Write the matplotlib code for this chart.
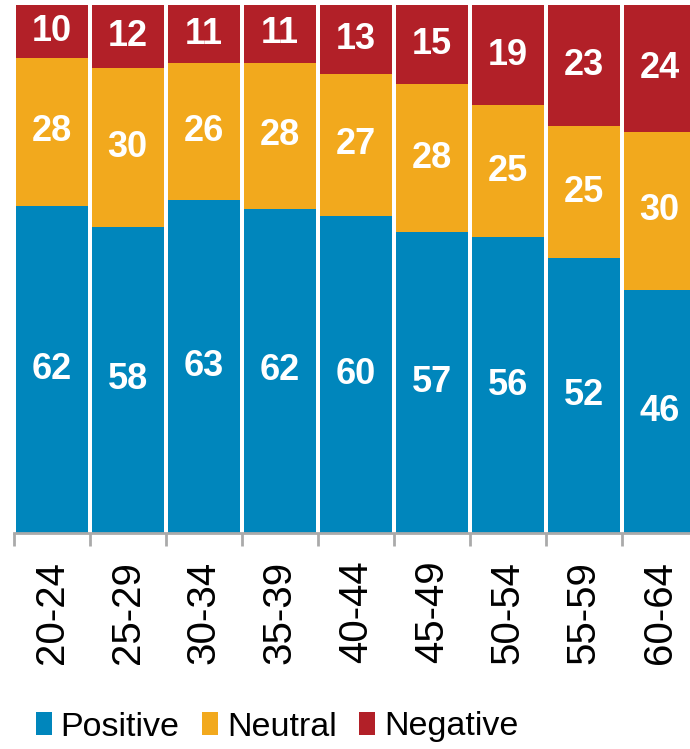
import matplotlib.pyplot as plt
import numpy as np

plt.rcParams['font.family'] = ['Liberation Sans', 'DejaVu Sans']

# Data
ages = ['20-24', '25-29', '30-34', '35-39', '40-44', '45-49', '50-54', '55-59', '60-64']
positive = [62, 58, 63, 62, 60, 57, 56, 52, 46]
neutral = [28, 30, 26, 28, 27, 28, 25, 25, 30]
negative = [10, 12, 11, 11, 13, 15, 19, 23, 24]

colors = {'Positive': '#0086bc', 'Neutral': '#f2a91d', 'Negative': '#b22028'}

W, H = 690, 749
fig = plt.figure(figsize=(W / 100, H / 100), dpi=100)
# axes spans slightly past the right edge, like the reference crop
ax = fig.add_axes([13.7 / W, 216 / H, 684 / W, 528 / H])

x = np.arange(len(ages))
pos = np.array(positive, dtype=float)
neu = np.array(neutral, dtype=float)
neg = np.array(negative, dtype=float)
tot = pos + neu + neg
# 100% stacked: heights are shares of each bar's total
pos_h, neu_h, neg_h = pos / tot * 100, neu / tot * 100, neg / tot * 100

bw = 0.95
b1 = ax.bar(x, pos_h, bw, color=colors['Positive'], label='Positive')
b2 = ax.bar(x, neu_h, bw, bottom=pos_h, color=colors['Neutral'], label='Neutral')
b3 = ax.bar(x, neg_h, bw, bottom=pos_h + neu_h, color=colors['Negative'], label='Negative')

for vals, hs, bottoms in [(positive, pos_h, np.zeros_like(pos_h)),
                          (neutral, neu_h, pos_h),
                          (negative, neg_h, pos_h + neu_h)]:
    for xi, v, h, b in zip(x, vals, hs, bottoms):
        ax.text(xi, b + h / 2, str(v), ha='center', va='center', color='white',
                fontsize=26, fontweight='bold')

ax.set_xlim(-0.5, len(ages) - 0.5)
ax.set_ylim(0, 100)
ax.set_yticks([])
for s in ['top', 'right', 'left']:
    ax.spines[s].set_visible(False)
ax.spines['bottom'].set_color('#aaaaaa')
ax.spines['bottom'].set_linewidth(2)

# ticks between categories, labels at centers
ax.set_xticks(np.arange(len(ages) + 1) - 0.5, minor=False)
ax.set_xticklabels([])
ax.tick_params(axis='x', which='major', length=9, width=2, color='#aaaaaa', direction='out')
ax.set_xticks(x, minor=True)
ax.set_xticklabels(ages, minor=True, rotation=90, fontsize=29)
ax.tick_params(axis='x', which='minor', length=0, pad=20)

fig.legend(handles=[b1, b2, b3], labels=['Positive', 'Neutral', 'Negative'],
           loc='center', bbox_to_anchor=(277 / W, 1 - 727 / H), ncol=3, frameon=False,
           fontsize=24.5, handlelength=0.47, handleheight=0.65, handletextpad=0.27,
           columnspacing=0.65, borderpad=0.2)

fig.savefig('out.png', dpi=100)
